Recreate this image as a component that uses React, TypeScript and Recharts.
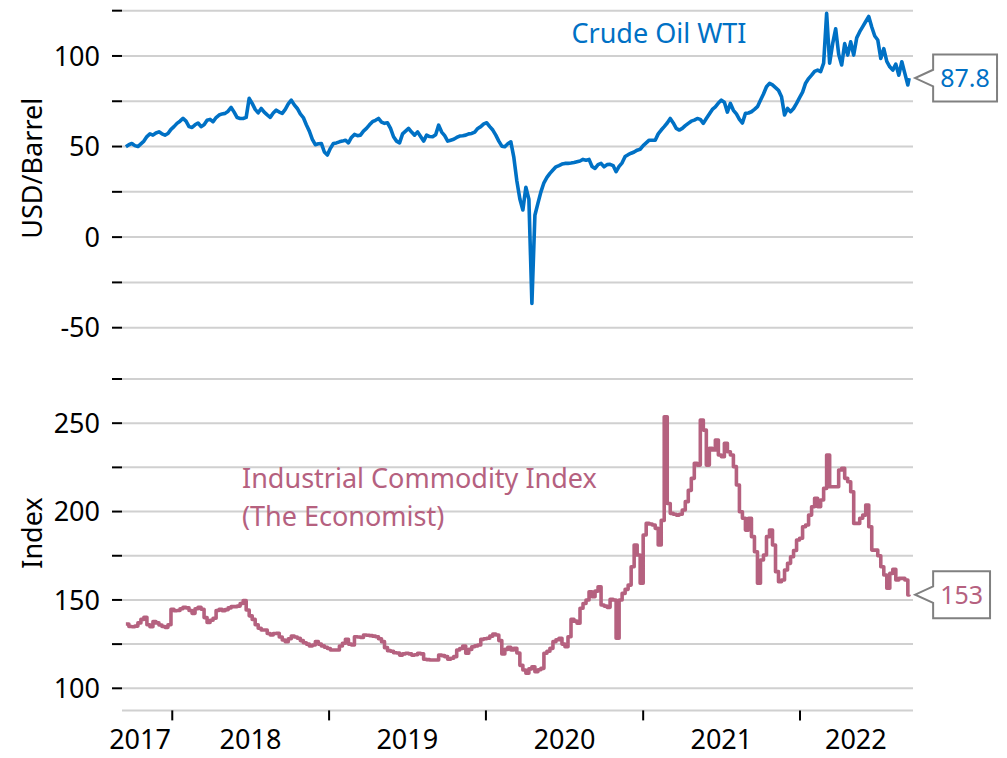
import React from 'react';
import { LineChart, Line, XAxis, YAxis, CartesianGrid, ReferenceDot } from 'recharts';

const FONT = '"Noto Sans", "Open Sans", sans-serif';
const BLUE = '#0071C5';
const PINK = '#B5617F';

// weekly observations starting Fri 15 Sep 2017, final point Mon 12 Sep 2022
const START = Date.UTC(2017, 8, 15);
const WEEK = 7 * 24 * 3600 * 1000;
const LAST = Date.UTC(2022, 8, 12);

const wti: number[] = [
  49.9, 51, 51.7, 50.5, 50, 51.5, 53, 55.5, 57, 56.3,
  57.5, 58.1, 57, 56.3, 57.2, 59.5, 61, 62.8, 64, 65.5,
  64, 61, 60.5, 62, 63, 61, 62, 64.5, 65, 63.7,
  66, 67.4, 68, 68.3, 69.5, 71.6, 69, 66, 65.5, 65.5,
  66.1, 76.6, 73.8, 70.5, 68.6, 71, 69, 67.5, 66.1, 68.5,
  70.1, 69, 68.3, 70.5, 73.5, 75.6, 73, 71, 68, 66,
  62, 58.5, 54, 51, 51.5, 51.7, 47, 45.3, 49, 51.7,
  52, 52.6, 53, 53.5, 52, 55, 56.7, 56, 56.3, 58.5,
  60, 62, 63.7, 64.5, 65.5, 63.5, 62.8, 63.1, 60, 55.4,
  53, 52, 57, 58.5, 60, 58, 56.3, 58.1, 55.5, 53,
  56.3, 55.5, 55.4, 56.5, 61.8, 58, 56, 53, 53.5, 54,
  55, 55.8, 56, 56.3, 57, 57.2, 58, 60, 61, 62.5,
  63.1, 61, 59.1, 56.3, 53, 50.2, 49.9, 51.5, 52.6, 44,
  31, 21, 15, 27.5, 21, -36.6, 12.1, 18.6, 25, 30,
  33, 35.2, 37, 38.8, 39.5, 40.3, 40.7, 40.7, 40.9, 41.2,
  41.6, 42, 42.9, 42.5, 42.9, 39, 37.9, 40, 40.7, 38.8,
  40, 40.2, 39.5, 36.1, 39, 41, 44.5, 45.5, 46.3, 47,
  48, 48.5, 50.5, 52, 53.5, 53.5, 53.5, 57, 59.1, 61,
  63, 65.5, 63, 60, 59.1, 60, 61.5, 62.8, 64, 64.6,
  65.5, 65, 62.8, 65.5, 68, 70.5, 71.9, 74, 75.6, 74.5,
  69, 73.8, 70, 68, 65, 63, 68.3, 68.5, 69.2, 70.5,
  72, 75.5, 79, 83, 84.9, 84, 82.5, 81, 77.5, 67.4,
  71, 69.2, 71, 73.8, 77, 80, 85, 87.5, 89.4, 91.5,
  92.2, 91.3, 96, 123.5, 96, 106.8, 115, 101, 95, 106.8,
  100.5, 107.8, 100.5, 110, 113.4, 116.2, 119, 121.8, 116, 111,
  108.8, 98.6, 104, 97, 94, 92.2, 95.5, 89.4, 96.8, 90.4,
  84, 87.8,
];

const commodity: number[] = [
  136.4, 135, 134.8, 135.2, 137, 139, 140.2, 136, 134.8, 137.7,
  137, 135.8, 135, 134.5, 136, 144.7, 143.9, 144, 145, 145.8,
  145.5, 144, 142.4, 145, 145.8, 144.7, 140, 137.3, 138.5, 139.6,
  144, 144.7, 143.9, 144.5, 145.5, 146.2, 146.2, 146.5, 148, 149.6,
  144.3, 141, 139, 136, 134, 133, 133, 131, 130.2, 131,
  131.1, 129, 127.3, 126.4, 128, 129.6, 129, 128.3, 127, 125.8,
  125, 123.9, 124.5, 126.4, 125, 124, 123.2, 122.5, 121.7, 121.7,
  121.7, 123.9, 125.5, 127.7, 125, 124.5, 129.2, 129, 128.8, 130.2,
  130, 129.8, 129.5, 129.2, 128, 126.4, 123, 121.3, 121, 120.1,
  120, 118.8, 119.5, 119.8, 119.5, 118.8, 119, 119.8, 119.5, 116.4,
  116.2, 116, 116, 116, 118.8, 118.5, 117.9, 116.4, 117, 117.9,
  121.7, 122.5, 123.9, 119.8, 122, 123.5, 124, 124.5, 127.7, 128,
  128.3, 129.5, 130.7, 130.2, 127, 119.4, 122, 123.2, 121.7, 122.6,
  120, 113, 110.4, 108.5, 111, 112.2, 109.4, 110.5, 111.3, 119.8,
  121, 122.6, 126.4, 127.5, 128.3, 125, 123.5, 129.2, 139, 138,
  136.8, 145.3, 148, 150, 154.6, 151.8, 155, 157.5, 147.1, 146.5,
  145.8, 150.3, 150, 128.3, 150, 153.7, 156, 158.4, 168.8, 181.1,
  175.4, 159.4, 186.7, 193.3, 193, 192.4, 190.5, 181.1, 195, 253.6,
  204.6, 199, 198.5, 198, 198.5, 200.9, 205.6, 212, 218.8, 227.3,
  226.3, 251.8, 246.1, 226.3, 235.8, 234.8, 240.5, 232, 231, 238.6,
  233.8, 232, 225.4, 215, 199.9, 196.2, 189.5, 196.2, 185.8, 177.3,
  159.4, 172.6, 175.4, 185.8, 189.5, 181.1, 166, 160.3, 161.3, 166.9,
  170.7, 174.4, 178, 183.9, 184.9, 191.4, 192.4, 198, 202.7, 207.5,
  202.7, 206.5, 213.1, 232, 214, 214, 214, 223.5, 224.5, 218.8,
  216.9, 211.2, 193.3, 193.3, 196.2, 198, 203.7, 191.4, 178.2, 178.2,
  175, 168.8, 164.1, 156.6, 165, 167.3, 161.3, 162.2, 162.2, 161.3,
  152.8, 153,
];

const dates: number[] = wti.map((_, i) => (i < wti.length - 1 ? START + i * WEEK : LAST));

const wtiTicks = [-50, -25, 0, 25, 50, 75, 100, 125];
const wtiLabeled = [-50, 0, 50, 100];
const idxTicks = [100, 125, 150, 175, 200, 225, 250, 275];
const idxLabeled = [100, 150, 200, 250];

const yearBoundaries = [2018, 2019, 2020, 2021, 2022].map((y) => Date.UTC(y, 0, 1));
const yearLabels = [
  { t: Date.UTC(2017, 9, 18), label: '2017' },
  { t: Date.UTC(2018, 6, 2), label: '2018' },
  { t: Date.UTC(2019, 6, 2), label: '2019' },
  { t: Date.UTC(2020, 6, 2), label: '2020' },
  { t: Date.UTC(2021, 6, 2), label: '2021' },
  { t: Date.UTC(2022, 4, 11), label: '2022' },
];
const xDomain = [Date.UTC(2017, 8, 6), Date.UTC(2022, 8, 21)];
const xTicks = [...yearLabels.map((l) => l.t), ...yearBoundaries].sort((a, b) => a - b);

const wtiData = dates.map((t, i) => ({ t, v: wti[i] }));
const idxData = dates.map((t, i) => ({ t, v: commodity[i] }));

const XTick = (props: any) => {
  const { x, y, payload } = props;
  const lab = yearLabels.find((l) => l.t === payload.value);
  if (lab) {
    return (
      <text x={x} y={y + 39} textAnchor="middle" fontSize={27} fontFamily={FONT} fill="#000">
        {lab.label}
      </text>
    );
  }
  return <line x1={x} x2={x} y1={y} y2={y + 10} stroke="#000" strokeWidth={2} />;
};

const Callout = (props: any) => {
  const { cx, cy, text, color } = props;
  const tip = cx + 6;
  const bx = cx + 24;
  const w = text.replace(/[^0-9]/g, '').length * 14.3 + (text.includes('.') ? 7 : 0) + 14;
  const top = cy - 23.5;
  const bot = cy + 23.5;
  const d = `M${bx},${top} L${bx + w},${top} L${bx + w},${bot} L${bx},${bot} L${bx},${cy + 8.3} L${tip},${cy} L${bx},${cy - 8.3} Z`;
  return (
    <g>
      <path d={d} fill="#fff" stroke="#808080" strokeWidth={2} />
      <text x={bx + w / 2} y={cy + 9} textAnchor="middle" fontSize={25} fontFamily={FONT} fill={color}>
        {text}
      </text>
    </g>
  );
};

const tickStyle = { fontSize: 27, fontFamily: FONT, fill: '#000' };

export default function App() {
  const lastWti = wti[wti.length - 1];
  const lastIdx = commodity[commodity.length - 1];
  return (
    <div style={{ position: 'absolute', left: 0, top: 0, width: 1007, height: 758, background: '#fff' }}>
      <div style={{ position: 'absolute', left: 0, top: 0 }}>
        <LineChart width={1007} height={758} data={wtiData} margin={{ top: 10.67, right: 94, bottom: 430.3, left: 0 }}>
          <CartesianGrid vertical={false} stroke="#D0D0D0" strokeWidth={2} />
          <XAxis dataKey="t" type="number" domain={xDomain} hide />
          <YAxis
            type="number"
            domain={[-50, 125]}
            ticks={wtiTicks}
            interval={0}
            width={122}
            axisLine={false}
            tickSize={10}
            tickMargin={12}
            tickLine={{ stroke: '#000', strokeWidth: 2 }}
            tick={tickStyle}
            tickFormatter={(v: number) => (wtiLabeled.includes(v) ? String(v) : '')}
          />
          <Line
            dataKey="v"
            type="linear"
            stroke={BLUE}
            strokeWidth={3.6}
            dot={false}
            strokeLinejoin="round"
            isAnimationActive={false}
          />
          <ReferenceDot
            x={LAST}
            y={lastWti}
            r={0}
            shape={(p: any) => <Callout cx={p.cx} cy={p.cy} text={String(lastWti)} color={BLUE} />}
          />
        </LineChart>
      </div>
      <div style={{ position: 'absolute', left: 0, top: 0 }}>
        <LineChart width={1007} height={758} data={idxData} margin={{ top: 379, right: 94, bottom: 0, left: 0 }}>
          <CartesianGrid vertical={false} stroke="#D0D0D0" strokeWidth={2} />
          <XAxis
            dataKey="t"
            type="number"
            domain={xDomain}
            ticks={xTicks}
            interval={0}
            height={47.6}
            axisLine={false}
            tickLine={false}
            tickSize={0}
            tickMargin={0}
            tick={<XTick />}
          />
          <YAxis
            type="number"
            domain={[87.5, 275]}
            ticks={idxTicks}
            interval={0}
            width={122}
            axisLine={false}
            tickSize={10}
            tickMargin={12}
            tickLine={{ stroke: '#000', strokeWidth: 2 }}
            tick={tickStyle}
            tickFormatter={(v: number) => (idxLabeled.includes(v) ? String(v) : '')}
          />
          <Line
            dataKey="v"
            type="stepAfter"
            stroke={PINK}
            strokeWidth={3.6}
            dot={false}
            strokeLinejoin="round"
            isAnimationActive={false}
          />
          <ReferenceDot
            x={LAST}
            y={lastIdx}
            r={0}
            shape={(p: any) => <Callout cx={p.cx} cy={p.cy} text={String(lastIdx)} color={PINK} />}
          />
        </LineChart>
      </div>
      <svg
        width={1007}
        height={758}
        style={{ position: 'absolute', left: 0, top: 0, pointerEvents: 'none' }}
      >
        <text x={42} y={168.3} transform="rotate(-90 42 168.3)" textAnchor="middle" fontSize={27} fontFamily={FONT} fill="#000">
          USD/Barrel
        </text>
        <text x={42} y={533} transform="rotate(-90 42 533)" textAnchor="middle" fontSize={27} fontFamily={FONT} fill="#000">
          Index
        </text>
        <text x={659} y={43} textAnchor="middle" fontSize={27} fontFamily={FONT} fill={BLUE}>
          Crude Oil WTI
        </text>
        <text x={242} y={488} textAnchor="start" fontSize={27} fontFamily={FONT} fill={PINK}>
          Industrial Commodity Index
        </text>
        <text x={242} y={526} textAnchor="start" fontSize={27} fontFamily={FONT} fill={PINK}>
          (The Economist)
        </text>
      </svg>
    </div>
  );
}
